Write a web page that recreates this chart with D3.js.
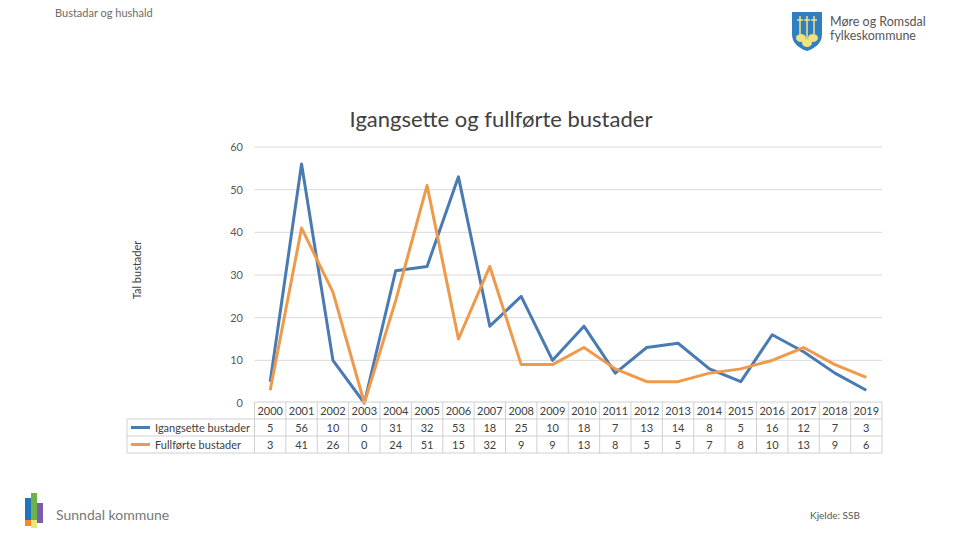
<!DOCTYPE html>
<html>
<head>
<meta charset="utf-8">
<script src="https://cdn.jsdelivr.net/npm/d3@7"></script>
<style>
  body { margin: 0; background: #fff; }
  svg text { font-family: Lato, "Open Sans", sans-serif; }
</style>
</head>
<body>
<div id="chart"></div>
<script>
var years = ["2000","2001","2002","2003","2004","2005","2006","2007","2008","2009",
             "2010","2011","2012","2013","2014","2015","2016","2017","2018","2019"];
var igangsette = [5, 56, 10, 0, 31, 32, 53, 18, 25, 10, 18, 7, 13, 14, 8, 5, 16, 12, 7, 3];
var fullforte  = [3, 41, 26, 0, 24, 51, 15, 32, 9, 9, 13, 8, 5, 5, 7, 8, 10, 13, 9, 6];
var yTicks = [0, 10, 20, 30, 40, 50, 60];
var seriesNames = ["Igangsette bustader", "Fullførte bustader"];
var colors = ["#4a7ab2", "#ee9a4a"];

var W = 960, H = 540;
var svg = d3.select("#chart").append("svg")
    .attr("width", W).attr("height", H);

var plotLeft = 254.5, plotRight = 882, plotTop = 147, plotBottom = 403;

var x = d3.scaleBand().domain(years).range([plotLeft, plotRight]);
var y = d3.scaleLinear().domain([0, 60]).range([plotBottom, plotTop]);

// header texts
svg.append("text").attr("x", 55).attr("y", 17)
    .style("font-size", "11px").style("fill", "#6b6b6b")
    .text("Bustadar og hushald");

svg.append("text").attr("x", 501).attr("y", 127)
    .attr("text-anchor", "middle")
    .style("font-size", "22px").style("fill", "#404040")
    .text("Igangsette og fullførte bustader");

// gridlines
svg.append("g").selectAll("line")
    .data(yTicks.filter(function(d){ return d > 0; }))
    .enter().append("line")
    .attr("x1", plotLeft).attr("x2", plotRight)
    .attr("y1", function(d){ return y(d); })
    .attr("y2", function(d){ return y(d); })
    .style("stroke", "#d9d9d9").style("stroke-width", "1px");

// y tick labels
svg.append("g").selectAll("text")
    .data(yTicks).enter().append("text")
    .attr("x", 243).attr("y", function(d){ return y(d) + 4; })
    .attr("text-anchor", "end")
    .style("font-size", "11px").style("fill", "#595959")
    .text(function(d){ return d; });

svg.append("text")
    .attr("transform", "translate(141,270) rotate(-90)")
    .attr("text-anchor", "middle")
    .style("font-size", "11px").style("fill", "#404040")
    .text("Tal bustader");

// lines
var line = d3.line()
    .x(function(d, i){ return x(years[i]) + x.bandwidth() / 2; })
    .y(function(d){ return y(d); });

[igangsette, fullforte].forEach(function(s, k){
    svg.append("path").datum(s)
        .attr("d", line)
        .style("fill", "none")
        .style("stroke", colors[k])
        .style("stroke-width", "3px")
        .style("stroke-linejoin", "round");
});

// data table
var rowH = 17, tTop = 402, legLeft = 127;
var tg = svg.append("g");
var border = "#d0d0d0";

// header row (years)
tg.selectAll(".yr").data(years).enter().append("text")
    .attr("x", function(d){ return x(d) + x.bandwidth() / 2; })
    .attr("y", tTop + 12.5)
    .attr("text-anchor", "middle")
    .style("font-size", "11px").style("fill", "#404040")
    .text(function(d){ return d; });

// horizontal borders
tg.append("line").attr("x1", plotLeft).attr("x2", plotRight)
    .attr("y1", tTop).attr("y2", tTop).style("stroke", border);
[1, 2, 3].forEach(function(r){
    tg.append("line").attr("x1", legLeft).attr("x2", plotRight)
        .attr("y1", tTop + r * rowH).attr("y2", tTop + r * rowH)
        .style("stroke", border);
});
// vertical borders
years.forEach(function(d){
    tg.append("line").attr("x1", x(d)).attr("x2", x(d))
        .attr("y1", tTop).attr("y2", tTop + 3 * rowH).style("stroke", border);
});
tg.append("line").attr("x1", plotRight).attr("x2", plotRight)
    .attr("y1", tTop).attr("y2", tTop + 3 * rowH).style("stroke", border);
tg.append("line").attr("x1", legLeft).attr("x2", legLeft)
    .attr("y1", tTop + rowH).attr("y2", tTop + 3 * rowH).style("stroke", border);

[igangsette, fullforte].forEach(function(s, k){
    var ry = tTop + (k + 1) * rowH;
    tg.append("line")
        .attr("x1", 131).attr("x2", 150)
        .attr("y1", ry + rowH / 2).attr("y2", ry + rowH / 2)
        .style("stroke", colors[k]).style("stroke-width", "3px");
    tg.append("text").attr("x", 155).attr("y", ry + 12.5)
        .style("font-size", "11px").style("fill", "#404040")
        .text(seriesNames[k]);
    tg.selectAll(".v" + k).data(s).enter().append("text")
        .attr("x", function(d, i){ return x(years[i]) + x.bandwidth() / 2; })
        .attr("y", ry + 12.5)
        .attr("text-anchor", "middle")
        .style("font-size", "11px").style("fill", "#404040")
        .text(function(d){ return d; });
});

// Møre og Romsdal logo
var logo = svg.append("g").attr("transform", "translate(792,12)");
logo.append("path")
    .attr("d", "M0,0 H30 V22 Q30,34 15,39 Q0,34 0,22 Z")
    .style("fill", "#2f7fc1");
[[9, 26], [21, 26], [15, 31]].forEach(function(p){
    logo.append("ellipse").attr("cx", p[0]).attr("cy", p[1])
        .attr("rx", 5).attr("ry", 4).style("fill", "#f3e27a");
});
[8, 15, 22].forEach(function(cx, i){
    logo.append("line").attr("x1", cx).attr("x2", cx)
        .attr("y1", 4).attr("y2", i == 1 ? 27 : 22)
        .style("stroke", "#f3e27a").style("stroke-width", 1.5);
    logo.append("line").attr("x1", cx - 3).attr("x2", cx + 3)
        .attr("y1", 8).attr("y2", 8)
        .style("stroke", "#f3e27a").style("stroke-width", 1.5);
});
svg.append("text").attr("x", 830).attr("y", 26)
    .style("font-size", "12.5px").style("fill", "#555")
    .text("Møre og Romsdal");
svg.append("text").attr("x", 830).attr("y", 40)
    .style("font-size", "12.5px").style("fill", "#555")
    .text("fylkeskommune");

// Sunndal logo
var sl = svg.append("g").attr("transform", "translate(25,493)");
sl.append("rect").attr("x", 0).attr("y", 5).attr("width", 6).attr("height", 26).style("fill", "#1f77b8");
sl.append("rect").attr("x", 6).attr("y", 0).attr("width", 6).attr("height", 30).style("fill", "#6bb34a");
sl.append("rect").attr("x", 12).attr("y", 10).attr("width", 6).attr("height", 20).style("fill", "#7a5fa8");
sl.append("rect").attr("x", 0).attr("y", 27).attr("width", 6).attr("height", 6).style("fill", "#f08a2c");
sl.append("rect").attr("x", 6).attr("y", 27).attr("width", 6).attr("height", 8).style("fill", "#e8e87a");
svg.append("text").attr("x", 56).attr("y", 520)
    .style("font-size", "14px").style("fill", "#777")
    .text("Sunndal kommune");

svg.append("text").attr("x", 810).attr("y", 519)
    .style("font-size", "10px").style("fill", "#555")
    .text("Kjelde: SSB");
</script>
</body>
</html>
